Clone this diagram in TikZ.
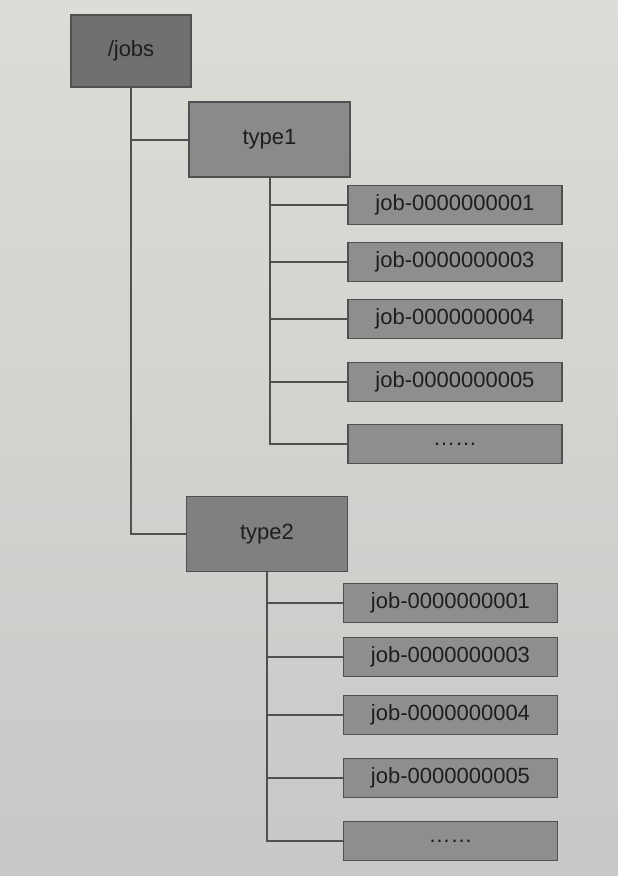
\documentclass[tikz,border=0pt]{standalone}
\usepackage{fontspec}
\setmainfont{Liberation Sans}
\usetikzlibrary{positioning}

\definecolor{bgtop}{RGB}{222,220,215}
\definecolor{bgbot}{RGB}{200,200,199}
\definecolor{boxline}{RGB}{80,80,80}
\definecolor{rootfill}{RGB}{112,112,112}
\definecolor{typeonefill}{RGB}{138,138,138}
\definecolor{typetwofill}{RGB}{128,128,128}
\definecolor{jobfill}{RGB}{142,142,142}
\definecolor{labeltext}{RGB}{30,30,30}

\begin{document}
\begin{tikzpicture}[
    x=1pt, y=-1pt,
    basebox/.style={rectangle, draw=boxline, line width=1.6pt, text=labeltext, font=\fontsize{22}{24}\selectfont},
    rootbox/.style={basebox, fill=rootfill, minimum width=120pt, minimum height=72pt},
    typebox/.style={basebox, minimum width=161pt, minimum height=75pt},
    jobbox/.style={basebox, fill=jobfill, minimum width=214pt, minimum height=39pt},
    link/.style={draw=boxline, line width=2pt}
]

% Page
\shade[top color=bgtop, bottom color=bgbot] (0,0) rectangle (618,876);
\useasboundingbox (0,0) rectangle (618,876);

% Root and types
\node[rootbox] (root) at (131,51) {/jobs};
\node[typebox, fill=typeonefill] (type1) at (269.5,139.5) {type1};
\node[typebox, fill=typetwofill] (type2) at (267,534) {type2};

% Jobs under type1
\foreach \y/\lbl [count=\k] in {205/job-0000000001, 262/job-0000000003, 319/job-0000000004, 382/job-0000000005, 444/……} {
    \node[jobbox] (a\k) at (455,\y) {\lbl};
}

% Jobs under type2
\foreach \y/\lbl [count=\k] in {603/job-0000000001, 657/job-0000000003, 715/job-0000000004, 778/job-0000000005, 841/……} {
    \node[jobbox] (b\k) at (450.5,\y) {\lbl};
}

% Tree lines
\draw[link] (root.south) |- (type2.west);
\draw[link] (root.south |- type1.west) -- (type1.west);
\foreach \k in {1,...,4} {
    \draw[link] (type1.south |- a\k.west) -- (a\k.west);
    \draw[link] (type2.south |- b\k.west) -- (b\k.west);
}
\draw[link] (type1.south) |- (a5.west);
\draw[link] (type2.south) |- (b5.west);

\end{tikzpicture}
\end{document}
